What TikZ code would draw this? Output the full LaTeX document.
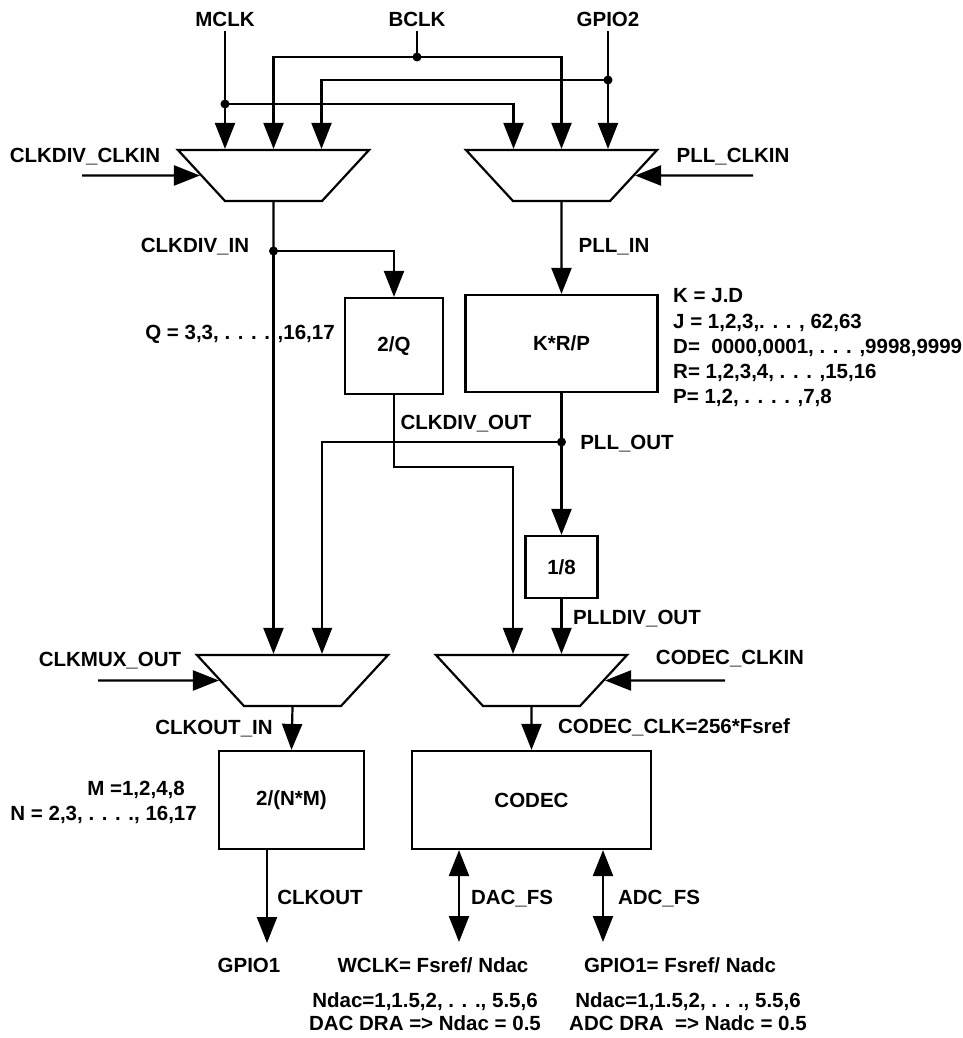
\documentclass[tikz,border=0pt]{standalone}
\usepackage{fontspec}
\setmainfont{Liberation Sans}
\usepackage{tikz}
\usetikzlibrary{arrows.meta,positioning,calc,shapes.geometric}
\newcommand{\lblfont}{\fontsize{20.5}{25.2}\selectfont\bfseries}
\newcommand{\notefont}{\fontsize{20.5}{23}\selectfont\bfseries}
\tikzset{
  blk/.style={draw=black, line width=2.2pt, inner sep=0pt, font=\lblfont},
  mux/.style={trapezium, draw=black, line width=2.2pt, shape border rotate=180,
    trapezium left angle=47.3, trapezium right angle=47.3,
    text width=97pt, text height=51pt, text depth=0pt, inner sep=0pt},
  lbl/.style={font=\lblfont, inner sep=0pt, text depth=0pt},
  note/.style={font=\notefont, inner sep=0pt, text depth=0pt, align=center},
  sig/.style={-{Triangle[length=26pt, width=20pt]}, line width=2.2pt},
  bsig/.style={{Triangle[length=26pt, width=20pt]}-{Triangle[length=26pt, width=20pt]}, line width=2.2pt},
  wire/.style={line width=2.2pt},
  jdot/.style={circle, fill=black, inner sep=0pt, minimum size=9pt}
}

\begin{document}
\begin{tikzpicture}[x=1pt, y=-1pt]
  \useasboundingbox (0,0) rectangle (963,1038);

  % clock sources
  \node[lbl] (mclk) at (225,19) {MCLK};
  \node[lbl] (bclk) at (417,19) {BCLK};
  \node[lbl] (gpiotwo) at (608,19) {GPIO2};
  \node[jdot] (jmclk) at (225,104) {};
  \node[jdot] (jbclk) at (417,57) {};
  \node[jdot] (jgpio) at (608,80) {};

  % input muxes
  \node[mux] (muxdiv) at (273.5,175.5) {};
  \node[mux] (muxpll) at (561.5,175.5) {};
  \node[lbl] (clkdivclkin) at (85,155) {CLKDIV\_CLKIN};
  \node[lbl] (pllclkin) at (733,155) {PLL\_CLKIN};
  \coordinate (cdin) at (82,175.5);
  \coordinate (pcin) at (753,175.5);

  \draw[sig, shorten <=5pt] (mclk.south) -- (mclk.south |- muxdiv.north);
  \draw[wire, shorten <=5pt] (bclk.south) -- (jbclk.center);
  \draw[sig, shorten <=5pt] (gpiotwo.south) -- (gpiotwo.south |- muxpll.north);
  \draw[sig] (jmclk.center) -| ($(muxpll.north)+(-48,0)$);
  \draw[sig] (jbclk.center) -| (muxdiv.north);
  \draw[sig] (jbclk.center) -| (muxpll.north);
  \draw[sig] (jgpio.center) -| ($(muxdiv.north)+(48,0)$);
  \draw[sig] (cdin) -- (muxdiv.west);
  \draw[sig] (pcin) -- (muxpll.east);

  % divider branch
  \node[jdot] (jdiv) at (273.5,251) {};
  \node[lbl] (clkdivin) at (195,245) {CLKDIV\_IN};
  \node[blk, minimum width=98pt, minimum height=96pt] (qdiv) at (394,346) {2/Q};
  \node[lbl] (qrange) at (240,332) {Q = 3,3, . . . . ,16,17};
  \node[lbl] (clkdivout) at (466,422) {CLKDIV\_OUT};

  % pll branch
  \node[lbl] (pllin) at (614,245) {PLL\_IN};
  \node[blk, minimum width=192pt, minimum height=97pt] (pll) at (561.5,343.5) {K*R/P};
  \node[lbl, anchor=north west, align=left] (pllpar) at (673,288.6)
    {K = J.D\\J = 1,2,3,. . . , 62,63\\D=\ \ 0000,0001, . . . ,9998,9999\\R= 1,2,3,4, . . . ,15,16\\P= 1,2, . . . . ,7,8};
  \node[jdot] (jpll) at (561.5,442) {};
  \node[lbl] (pllout) at (627,442) {PLL\_OUT};
  \node[blk, minimum width=72pt, minimum height=62pt] (eighth) at (561.5,567) {1/8};
  \node[lbl] (plldivout) at (637,617) {PLLDIV\_OUT};

  \draw[wire] (muxdiv.south) -- (jdiv.center);
  \draw[sig] (jdiv.center) -| (qdiv.north);
  \draw[sig] (muxpll.south) -- (pll.north);
  \draw[wire] (pll.south) -- (jpll.center);
  \draw[sig] (jpll.center) -- (eighth.north);

  % output muxes
  \node[mux] (muxout) at (292.5,680.5) {};
  \node[mux] (muxcodec) at (531.5,680.5) {};
  \node[lbl] (clkmuxout) at (110,659) {CLKMUX\_OUT};
  \node[lbl] (codecclkin) at (730,657) {CODEC\_CLKIN};
  \coordinate (cmin) at (98,680.5);
  \coordinate (ccin) at (725,680.5);

  \draw[sig] (jdiv.center) -- (jdiv |- muxout.north);
  \draw[sig] (jpll.center) -| ($(muxout.north)+(29.5,0)$);
  \draw[sig] (qdiv.south) -- ++(0,72) -| ($(muxcodec.north)+(-18.5,0)$);
  \draw[sig] (eighth.south) -- (eighth.south |- muxcodec.north);
  \draw[sig] (cmin) -- (muxout.west);
  \draw[sig] (ccin) -- (muxcodec.east);

  % clkout divider and codec
  \node[lbl] (clkoutin) at (214,727) {CLKOUT\_IN};
  \node[lbl] (codecclk) at (674,726) {CODEC\_CLK=256*Fsref};
  \node[blk, minimum width=145pt, minimum height=98pt] (nmbox) at (291.5,800) {2/(N*M)};
  \node[blk, minimum width=239pt, minimum height=98pt] (codec) at (531.5,800) {CODEC};
  \node[lbl, anchor=east] (mrange) at (185,788) {M =1,2,4,8};
  \node[lbl, anchor=east] (nrange) at (197,813) {N = 2,3, . . . ., 16,17};

  \draw[sig] (muxout.south) -- (nmbox.north);
  \draw[sig] (muxcodec.south) -- (codec.north);

  % outputs
  \coordinate (clkoutend) at (267,943);
  \coordinate (dacend) at (459,942);
  \coordinate (adcend) at (603,942);
  \draw[sig] (nmbox.south -| clkoutend) -- (clkoutend);
  \draw[bsig] (codec.south -| dacend) -- (dacend);
  \draw[bsig] (codec.south -| adcend) -- (adcend);
  \node[lbl] (clkout) at (320,897) {CLKOUT};
  \node[lbl] (dacfs) at (512,897) {DAC\_FS};
  \node[lbl] (adcfs) at (659,897) {ADC\_FS};
  \node[lbl] (gpioone) at (249,965) {GPIO1};
  \node[lbl] (wclk) at (433,965) {WCLK= Fsref/ Ndac};
  \node[lbl] (gpioonefs) at (680,965) {GPIO1= Fsref/ Nadc};
  \node[note] (dacnote) at (425,1011.5) {Ndac=1,1.5,2, . . ., 5.5,6\\DAC DRA => Ndac = 0.5};
  \node[note] (adcnote) at (688,1011.5) {Ndac=1,1.5,2, . . ., 5.5,6\\ADC DRA\ \ => Nadc = 0.5};
\end{tikzpicture}
\end{document}
